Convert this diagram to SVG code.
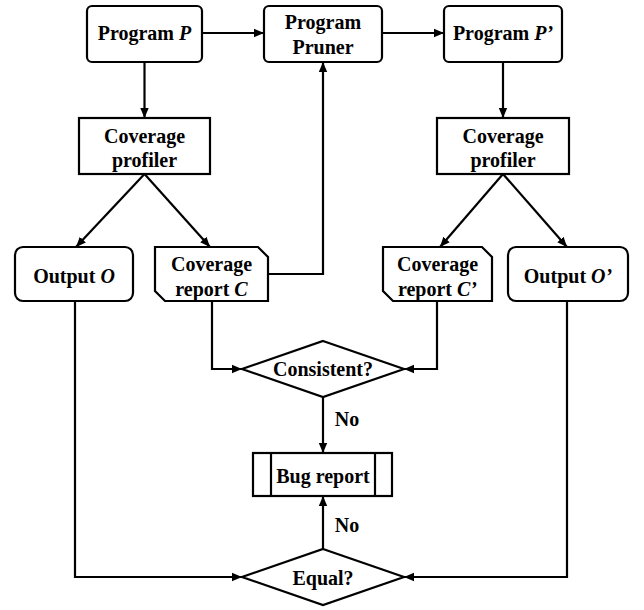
<svg xmlns="http://www.w3.org/2000/svg" width="644" height="610" viewBox="0 0 644 610" font-family="Liberation Serif" font-weight="bold" font-size="20">
<style>
.s{fill:#fff;stroke:#000;stroke-width:2.2}
.l{fill:none;stroke:#000;stroke-width:2.2}
text{text-anchor:middle;fill:#000}
.i{font-style:italic}
</style>
<defs>
<marker id="a" viewBox="0 0 10 10" refX="10" refY="5" markerWidth="10" markerHeight="10" markerUnits="userSpaceOnUse" orient="auto">
<path d="M0,0.8 L10,5 L0,9.2 Z" fill="#000"/>
</marker>
</defs>
<g id="connectors">
<line class="l" x1="202" y1="33" x2="264" y2="33" marker-end="url(#a)"/>
<line class="l" x1="382" y1="33" x2="444" y2="33" marker-end="url(#a)"/>
<line class="l" x1="144.5" y1="62" x2="144.5" y2="118" marker-end="url(#a)"/>
<line class="l" x1="503" y1="62" x2="503" y2="118" marker-end="url(#a)"/>
<line class="l" x1="144.5" y1="174" x2="76" y2="247" marker-end="url(#a)"/>
<line class="l" x1="144.5" y1="174" x2="210" y2="247" marker-end="url(#a)"/>
<line class="l" x1="503" y1="174" x2="440" y2="247" marker-end="url(#a)"/>
<line class="l" x1="503" y1="174" x2="567" y2="247" marker-end="url(#a)"/>
<polyline class="l" points="268,274 323,274 323,62" marker-end="url(#a)"/>
<polyline class="l" points="212,301 212,369 242,369" marker-end="url(#a)"/>
<polyline class="l" points="437,301 437,369 404,369" marker-end="url(#a)"/>
<polyline class="l" points="75,301 75,577 242,577" marker-end="url(#a)"/>
<polyline class="l" points="567,301 567,577 404,577" marker-end="url(#a)"/>
<line class="l" x1="323" y1="397" x2="323" y2="453" marker-end="url(#a)"/>
<line class="l" x1="323" y1="549" x2="323" y2="496" marker-end="url(#a)"/>
<text x="347" y="426">No</text>
<text x="347" y="532">No</text>
</g>
<g id="programP">
<rect class="s" x="87" y="6" width="115" height="56" rx="5"/>
<text x="144.5" y="40">Program <tspan class="i">P</tspan></text>
</g>
<g id="pruner">
<rect class="s" x="264" y="6" width="118" height="56" rx="5"/>
<text x="323" y="29">Program</text>
<text x="323" y="54">Pruner</text>
</g>
<g id="programP2">
<rect class="s" x="444" y="6" width="118" height="56" rx="5"/>
<text x="503" y="40">Program <tspan class="i">P’</tspan></text>
</g>
<g id="profiler1">
<rect class="s" x="79" y="118" width="131" height="56"/>
<text x="144.5" y="143">Coverage</text>
<text x="144.5" y="167">profiler</text>
</g>
<g id="profiler2">
<rect class="s" x="437" y="118" width="132" height="56"/>
<text x="503" y="143">Coverage</text>
<text x="503" y="167">profiler</text>
</g>
<g id="outputO">
<rect class="s" x="15" y="247" width="118" height="54" rx="8"/>
<text x="74" y="283">Output <tspan class="i">O</tspan></text>
</g>
<g id="reportC">
<path class="s" d="M155,247 L258,247 L268,257 L268,301 L165,301 L155,291 Z"/>
<text x="211.5" y="271">Coverage</text>
<text x="211.5" y="296">report <tspan class="i">C</tspan></text>
</g>
<g id="reportC2">
<path class="s" d="M383,247 L482,247 L492,257 L492,301 L393,301 L383,291 Z"/>
<text x="437.5" y="271">Coverage</text>
<text x="437.5" y="296">report <tspan class="i">C’</tspan></text>
</g>
<g id="outputO2">
<rect class="s" x="508" y="247" width="120" height="54" rx="8"/>
<text x="568" y="283">Output <tspan class="i">O’</tspan></text>
</g>
<g id="consistent">
<path class="s" d="M323,341 L404,369 L323,397 L242,369 Z"/>
<text x="323" y="376">Consistent?</text>
</g>
<g id="bugreport">
<rect class="s" x="253" y="453" width="139" height="43"/>
<line class="l" x1="271" y1="453" x2="271" y2="496"/>
<line class="l" x1="375" y1="453" x2="375" y2="496"/>
<text x="323" y="483">Bug report</text>
</g>
<g id="equal">
<path class="s" d="M323,549 L404,577 L323,605 L242,577 Z"/>
<text x="323" y="585">Equal?</text>
</g>
</svg>
